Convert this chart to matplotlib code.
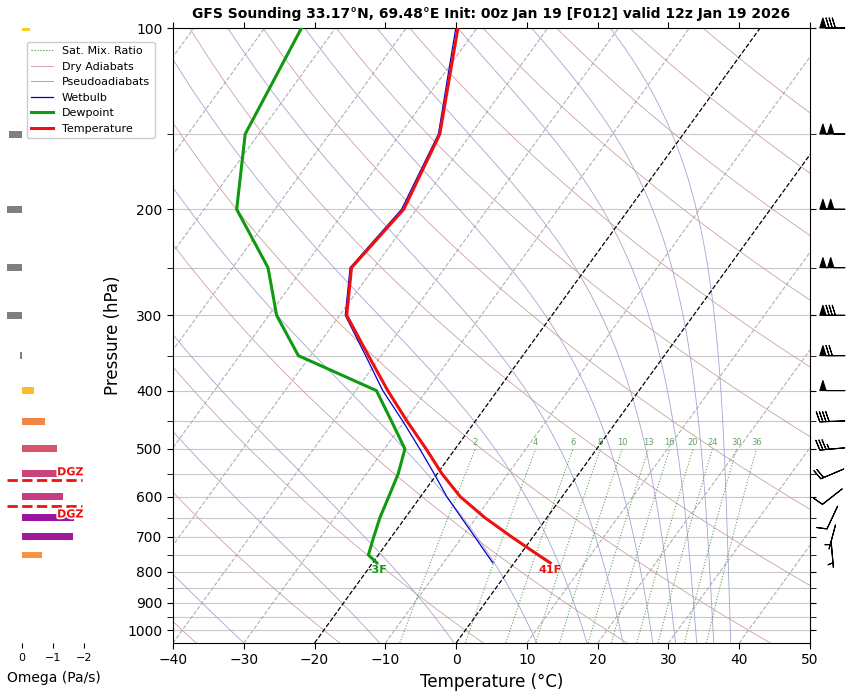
import numpy as np
import matplotlib
matplotlib.use('Agg')
import matplotlib.pyplot as plt
import matplotlib.transforms as mtransforms
import matplotlib.patheffects as pe
from matplotlib.lines import Line2D

# perfil del sondeo (hPa, °C)
presion = [773, 750, 700, 650, 600, 550, 500, 450, 400, 350, 300, 250, 200, 150, 100]
temperatura = [5.1, 2.6, -3.0, -8.8, -14.4, -19.3, -24.1, -29.6, -35.5, -41.8, -49.0, -53.2, -51.8, -54.4, -62.7]
punto_rocio = [-19.4, -21.4, -22.5, -23.6, -24.5, -25.5, -27.1, -31.8, -37.1, -51.7, -58.9, -65.0, -75.4, -81.9, -84.8]
bulbo_humedo = [-3.0, -4.6, -8.2, -12.1, -16.3, -20.4, -25.0, -30.2, -36.2, -42.2, -49.2, -53.4, -52.1, -54.6, -63.0]

# omega (Pa/s)
niveles_omega = [750, 700, 650, 600, 550, 500, 450, 400, 350, 300, 250, 200, 150, 100]
omega = [-0.65, -1.65, -1.68, -1.33, -1.27, -1.13, -0.74, -0.38, 0.05, 0.48, 0.48, 0.48, 0.42, -0.26]

# viento (kt, grados)
niveles_viento = [750, 700, 650, 600, 550, 500, 450, 400, 350, 300, 250, 200, 150, 100]
velocidad = [5, 7, 10, 12, 22, 37, 40, 50, 70, 80, 100, 100, 100, 80]
direccion = [175, 195, 205, 232, 247, 265, 268, 270, 270, 270, 270, 270, 270, 270]

# lineas de fondo
razon_mezcla = [2, 4, 6, 8, 10, 13, 16, 20, 24, 30, 36]
theta_seca = np.arange(-40, 201, 20)
t_pseudo = [-30.0, -10.8, -0.3, 11.4, 18.5, 23.6, 27.8, 31.0, 34.0, 36.4, 38.8]

titulo = "GFS Sounding 33.17°N, 69.48°E Init: 00z Jan 19 [F012] valid 12z Jan 19 2026"

P_BOT = 1050.0
P_TOP = 100.0
SKEW = 61.65


def sesgar(t, p):
    return np.asarray(t) + SKEW * np.log10(P_BOT / np.asarray(p))


def tension_sat(tc):
    return 6.112 * np.exp(17.67 * tc / (tc + 243.5))


def pseudoadiabata(t0, p):
    Rd, Cp, Lv, eps = 287.04, 1005.7, 2.501e6, 0.622
    T = t0 + 273.15
    salida = [T]
    for i in range(1, len(p)):
        p0 = p[i - 1]
        dp = p[i] - p0

        def f(T, pp):
            es = tension_sat(T - 273.15)
            rs = eps * es / (pp - es)
            return (Rd * T + Lv * rs) / (pp * (Cp + Lv * Lv * rs * eps / (Rd * T * T)))
        k1 = f(T, p0)
        k2 = f(T + 0.5 * dp * k1, p0 + 0.5 * dp)
        k3 = f(T + 0.5 * dp * k2, p0 + 0.5 * dp)
        k4 = f(T + dp * k3, p0 + dp)
        T = T + dp * (k1 + 2 * k2 + 2 * k3 + k4) / 6
        salida.append(T)
    return np.array(salida) - 273.15


fig = plt.figure(figsize=(8.49, 6.92), dpi=100)
ax = fig.add_axes([173 / 849, 49 / 692, 637 / 849, 615 / 692])
axo = fig.add_axes([5 / 849, 49 / 692, 90 / 849, 615 / 692])

pp = np.logspace(np.log10(P_BOT), np.log10(P_TOP), 200)

# isobaras
for p in range(100, 1001, 50):
    ax.axhline(p, color='#c8c8c8', lw=0.8, zorder=1)

# isotermas
for t in range(-160, 51, 10):
    if t in (0, -20):
        ax.plot(sesgar(t, pp), pp, color='black', ls='--', lw=0.9, zorder=2)
    else:
        ax.plot(sesgar(t, pp), pp, color='#b0b0b0', ls='--', lw=0.8, zorder=1)

# adiabatas secas
for th in theta_seca:
    tt = (th + 273.15) * (pp / 1000.0) ** 0.2857 - 273.15
    ax.plot(sesgar(tt, pp), pp, color='#cc9898', lw=0.55, zorder=1)

# pseudoadiabatas
for t0 in t_pseudo:
    tt = pseudoadiabata(t0, pp)
    ax.plot(sesgar(tt, pp), pp, color='#a4a4d4', lw=0.6, zorder=1)

# razon de mezcla
pm = np.logspace(np.log10(P_BOT), np.log10(500), 60)
for w in razon_mezcla:
    e = (w / 1000.0) * pm / (0.622 + w / 1000.0)
    ln = np.log(e / 6.112)
    td = 243.5 * ln / (17.67 - ln)
    ax.plot(sesgar(td, pm), pm, color='#3c903c', ls=':', lw=0.8, alpha=0.8, zorder=1)
    ax.text(sesgar(td[-1], 500), 500 * 0.993, str(w), fontsize=6, color='#66a266',
            ha='center', va='bottom', zorder=3)

# perfiles
ax.plot(sesgar(bulbo_humedo, presion), presion, color='#0000cc', lw=0.9, zorder=4)
ax.plot(sesgar(punto_rocio, presion), presion, color='#119911', lw=2.2, zorder=5)
ax.plot(sesgar(temperatura, presion), presion, color='#ee1111', lw=2.2, zorder=6)

tf = temperatura[0] * 9 / 5 + 32
tdf = punto_rocio[0] * 9 / 5 + 32
ax.text(sesgar(temperatura[0], presion[0]), presion[0] * 1.01, f"{tf:.0f}F", color='#ee1111',
        fontsize=8, fontweight='bold', ha='center', va='top', zorder=9)
ax.text(sesgar(punto_rocio[0], presion[0]), presion[0] * 1.01, f"{tdf:.0f}F", color='#119911',
        fontsize=8, fontweight='bold', ha='center', va='top', zorder=9)

ax.set_yscale('log')
ax.set_ylim(P_BOT, P_TOP)
ax.set_xlim(-40, 50)
ax.set_yticks(range(100, 1001, 100))
ax.set_yticklabels([str(v) for v in range(100, 1001, 100)])
ax.set_yticks([v for v in range(150, 1001, 100)], minor=True)
ax.yaxis.set_minor_formatter(matplotlib.ticker.NullFormatter())
ax.set_xticks(range(-40, 51, 10))
ax.tick_params(axis='both', which='both', labelsize=10, length=4, direction='out',
               top=True, right=True)
ax.set_xlabel("Temperature (°C)", fontsize=12)
ax.set_ylabel("Pressure (hPa)", fontsize=12)
ax.set_title(titulo, fontsize=10, fontweight='bold', pad=7)

# barbas de viento
vel = np.array(velocidad, dtype=float)
dr = np.radians(direccion)
u = -vel * np.sin(dr)
v = -vel * np.cos(dr)
trans = mtransforms.blended_transform_factory(ax.transAxes, ax.transData)
ax.barbs(np.full(len(vel), 1.035), niveles_viento, u, v, transform=trans, clip_on=False,
         pivot='middle', length=6.0, lw=0.8, zorder=8)

# panel omega
cmap = plt.get_cmap('plasma')
med = 3.5 / 603
for p, w in zip(niveles_omega, omega):
    color = '#808080' if w >= 0 else cmap(1 - abs(w) / 2.5)
    abajo = p * 10 ** (-med)
    arriba = p * 10 ** (med)
    axo.barh(abajo, w, height=arriba - abajo, align='edge', color=color)

# zona de crecimiento dendritico
tt = np.array(temperatura[:8])
lp = np.log10(np.array(presion[:8], dtype=float))
p_dgz_sup = 10 ** np.interp(-18, tt[::-1], lp[::-1])
p_dgz_inf = 10 ** np.interp(-12, tt[::-1], lp[::-1])
for pd, va, fac in [(p_dgz_sup, 'bottom', 0.99), (p_dgz_inf, 'top', 1.015)]:
    axo.hlines(pd, 0.5, -1.94, colors='#ee1111', linestyles='--', lw=2)
    axo.text(-1.56, pd * fac, "DGZ", color='#ee1111', fontsize=8, fontweight='bold',
             ha='center', va=va, path_effects=[pe.withStroke(linewidth=2.5, foreground='white')])

axo.set_yscale('log')
axo.set_ylim(P_BOT, P_TOP)
axo.set_xlim(17 / 31, -73 / 31)
axo.set_yticks([])
axo.set_yticks([], minor=True)
axo.set_xticks([0, -1, -2])
axo.set_xticklabels(['0', '\u22121', '\u22122'])
axo.tick_params(axis='x', labelsize=8, length=3.5)
for s in axo.spines.values():
    s.set_visible(False)
axo.set_xlabel("Omega (Pa/s)", fontsize=10)
axo.xaxis.set_label_coords(0.54, -0.045)

# leyenda
manejadores = [
    Line2D([], [], color='#3c903c', ls=':', lw=0.8),
    Line2D([], [], color='#cc9898', lw=0.6),
    Line2D([], [], color='#a4a4d4', lw=0.7),
    Line2D([], [], color='#0000cc', lw=0.9),
    Line2D([], [], color='#119911', lw=2.2),
    Line2D([], [], color='#ee1111', lw=2.2),
]
etiquetas = ["Sat. Mix. Ratio", "Dry Adiabats", "Pseudoadiabats", "Wetbulb", "Dewpoint", "Temperature"]
fig.legend(manejadores, etiquetas, loc='upper left', bbox_to_anchor=(21 / 849, 1 - 36 / 692),
           fontsize=8, framealpha=1)

fig.savefig("out.png", dpi=100)
